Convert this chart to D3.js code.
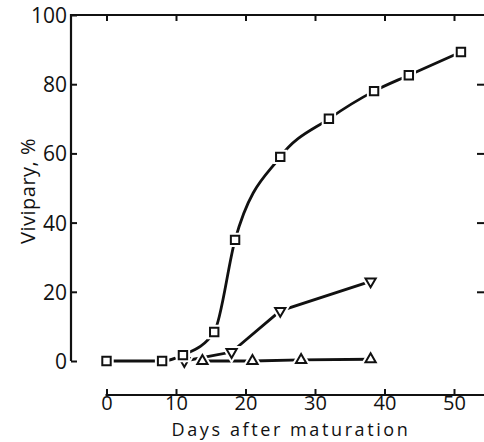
<!DOCTYPE html>
<html>
<head>
<meta charset="utf-8">
<script src="https://cdn.jsdelivr.net/npm/d3@7"></script>
<style>
  body { margin: 0; background: #fff; }
  text { font-family: "Open Sans", sans-serif; fill: #111; }
</style>
</head>
<body>
<div id="chart"></div>
<script>
// data
var squareDays = [0, 8, 11, 15.5, 18.5, 25, 32, 38.5, 43.5, 51];
var squareVals = [0, 0, 1.7, 8.4, 35, 59, 70, 78, 82.6, 89.3];
var downDays = [11.2, 18, 25, 38];
var downVals = [0, 2.6, 14.5, 23];
var upDays = [13.8, 21, 28, 38];
var upVals = [0, 0, 0.3, 0.5];
var xTicks = [0, 10, 20, 30, 40, 50];
var yTicks = [0, 20, 40, 60, 80, 100];

var width = 484, height = 442;

var svg = d3.select("#chart").append("svg")
    .attr("width", width)
    .attr("height", height);

var x = d3.scaleLinear().domain([0, 50]).range([106.5, 454]);
var y = d3.scaleLinear().domain([0, 100]).range([361, 15]);

var axisY = 395, axisX = 71;
var ink = "#111";

var seg = d3.line();

// tick marks as short paths, dx/dy gives the direction
function tickMarks(g, dx, dy) {
    g.select(".domain").remove();
    g.selectAll(".tick line").remove();
    g.selectAll(".tick").append("path")
        .attr("d", seg([[0, 0], [dx, dy]]))
        .attr("fill", "none")
        .attr("stroke", ink)
        .attr("stroke-width", 2);
}

// left axis, ticks point inward
var gLeft = svg.append("g")
    .attr("transform", "translate(" + axisX + ",0)")
    .call(d3.axisLeft(y).tickValues(yTicks).tickSize(0).tickPadding(4));
tickMarks(gLeft, 6, 0);
gLeft.selectAll("text").style("font-size", "21px").attr("dy", "0.36em");

// top axis, ticks only
var gTop = svg.append("g")
    .attr("transform", "translate(0," + y(100) + ")")
    .call(d3.axisTop(x).tickValues(xTicks).tickSize(0).tickFormat(""));
tickMarks(gTop, 0, 6);

// right side, ticks only
var gRight = svg.append("g")
    .attr("transform", "translate(" + width + ",0)")
    .call(d3.axisLeft(y).tickValues([20, 40, 60, 80]).tickSize(0).tickFormat(""));
tickMarks(gRight, -7, 0);

// bottom axis, ticks point up
var gBottom = svg.append("g")
    .attr("transform", "translate(0," + axisY + ")")
    .call(d3.axisBottom(x).tickValues(xTicks).tickSize(0).tickPadding(0));
tickMarks(gBottom, 0, -6);
gBottom.selectAll("text").style("font-size", "20px").attr("dy", "0.75em");

// frame lines
var frame = [
    [[axisX, y(100) - 1], [axisX, y(0)]],
    [[axisX - 1, y(100)], [width, y(100)]],
    [[x(0) - 1, axisY], [width, axisY]]
];
svg.selectAll(".frame")
    .data(frame)
    .enter().append("path")
    .attr("class", "frame")
    .attr("d", function (d) { return seg(d); })
    .attr("fill", "none")
    .attr("stroke", ink)
    .attr("stroke-width", 2.2);

// axis titles
svg.append("text")
    .attr("x", 291).attr("y", 436)
    .attr("text-anchor", "middle")
    .style("font-size", "18px")
    .style("letter-spacing", "2.6px")
    .text("Days after maturation");

svg.append("text")
    .attr("transform", "translate(35,191) rotate(-90)")
    .attr("text-anchor", "middle")
    .style("font-size", "20px")
    .style("letter-spacing", "0.5px")
    .text("Vivipary, %");

// series
var squares = squareDays.map(function (d, i) { return [d, squareVals[i]]; });
var downs = downDays.map(function (d, i) { return [d, downVals[i]]; });
var ups = upDays.map(function (d, i) { return [d, upVals[i]]; });

var smooth = d3.line()
    .x(function (d) { return x(d[0]); })
    .y(function (d) { return y(d[1]); })
    .curve(d3.curveMonotoneX);
var straight = d3.line()
    .x(function (d) { return x(d[0]); })
    .y(function (d) { return y(d[1]); });

[[ups, straight], [downs, straight], [squares, smooth]].forEach(function (s) {
    svg.append("path")
        .attr("d", s[1](s[0]))
        .attr("fill", "none")
        .attr("stroke", ink)
        .attr("stroke-width", 2.8);
});

function drawMarks(data, type, size, rot) {
    var sym = d3.symbol().type(type).size(size);
    var g = svg.append("g");
    var pos = function (d) {
        return "translate(" + x(d[0]) + "," + y(d[1]) + ") rotate(" + rot + ")";
    };
    // white halo leaves the small gap at each marker
    g.selectAll(".halo")
        .data(data)
        .enter().append("path")
        .attr("class", "halo")
        .attr("d", sym)
        .attr("transform", pos)
        .attr("fill", "#fff")
        .attr("stroke", "#fff")
        .attr("stroke-width", 6);
    g.selectAll(".mark")
        .data(data)
        .enter().append("path")
        .attr("class", "mark")
        .attr("d", sym)
        .attr("transform", pos)
        .attr("fill", "#fff")
        .attr("stroke", ink)
        .attr("stroke-width", 2);
}

drawMarks(ups, d3.symbolTriangle2, 75, 0);
drawMarks(downs, d3.symbolTriangle2, 75, 180);
drawMarks(squares, d3.symbolSquare2, 90, 0);
</script>
</body>
</html>
